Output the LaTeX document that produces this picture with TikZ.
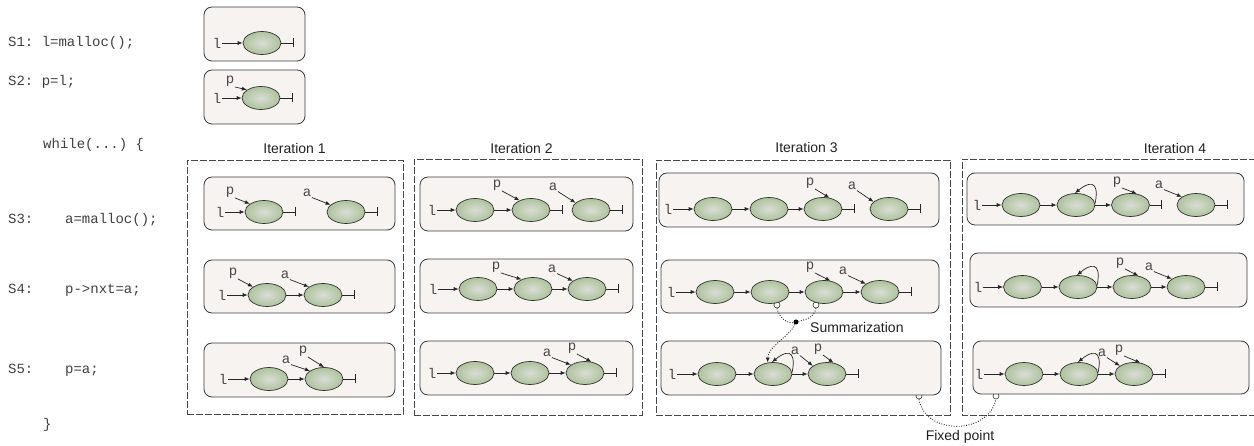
\documentclass[tikz,border=0pt]{standalone}
\usepackage{fontspec}
\setmainfont{Liberation Sans}
\setmonofont{Liberation Mono}
\usetikzlibrary{arrows.meta,shapes.geometric,fit}
\definecolor{cellfill}{HTML}{F7F3F1}
\definecolor{cellline}{HTML}{3C3C3C}
\definecolor{objin}{HTML}{DADDD6}
\definecolor{objout}{HTML}{ADC39B}
\definecolor{ink}{HTML}{222222}
% self-pointer drawn as a small loop over a heap cell
\newcommand\selfloop[1]{\draw[nxt] (#1.5) .. controls +(5,-26) and +(12,-10) .. (#1.95);}
\begin{document}
\begin{tikzpicture}[x=1pt,y=-1pt,
  code/.style={font=\fontsize{14}{16}\selectfont\ttfamily, text=black!75, anchor=west, inner sep=0},
  var/.style={font=\fontsize{14}{16}\selectfont\ttfamily, text=black!72, inner sep=0.5pt},
  title/.style={font=\fontsize{14}{16}\selectfont, text=ink, inner sep=0},
  frame/.style={draw=black!72, dash pattern=on 7pt off 2pt, line width=0.8pt, inner sep=0},
  cell/.style={draw=cellline, fill=cellfill, rounded corners=8pt, line width=0.8pt, inner sep=0},
  obj/.style={ellipse, draw=black!80, line width=0.7pt, minimum width=38pt, minimum height=23pt,
    inner sep=0, shading=radial, inner color=objin, outer color=objout},
  nxt/.style={draw=black!85, line width=0.7pt, -{Latex[length=5pt,width=4pt]}},
  nil/.style={draw=black!85, line width=0.7pt, -{Bar[width=9pt]}},
  hook/.style={circle, draw=black!80, fill=white, line width=0.6pt, minimum size=6pt, inner sep=0},
  knot/.style={circle, fill=black, minimum size=5pt, inner sep=0},
  trail/.style={draw=black!85, line width=0.9pt, dash pattern=on 0.9pt off 1.6pt}]
\fill[white] (0,0) rectangle (1254,446);
\useasboundingbox (0,0) rectangle (1254,446);

% ---------------- program text ----------------
\node[code] (s1) at (8,43) {S1: l=malloc();};
\node[code] (s2) at (8,82) {S2: p=l;};
\node[code] (wh) at (43,145) {while(...) \{};
\node[code] (s3) at (8,220) {S3:\hspace{31.8pt}a=malloc();};
\node[code] (s4) at (8,290) {S4:\hspace{31.8pt}p->nxt=a;};
\node[code] (s5) at (8,370) {S5:\hspace{31.8pt}p=a;};
\node[code] (cb) at (43,425) {\}};

% ---------------- iteration frames ----------------
\node[frame, fit={(187,160) (403,414)}] (it1) {};
\node[frame, fit={(414,159) (642,415)}] (it2) {};
\node[frame, fit={(656,160) (950,415)}] (it3) {};
\draw[frame] (1256,159) -| (962,415) -- (1256,415);
\node[title] (t1) at (294.5,148) {Iteration 1};
\node[title] (t2) at (521.5,148) {Iteration 2};
\node[title] (t3) at (806.5,147) {Iteration 3};
\node[title] (t4) at (1175,148) {Iteration 4};

% fixed-point markers (half hidden under the cells)
\node[hook] (f1) at (919,396) {};
\node[hook] (f2) at (996,396) {};

% ---------------- shape graph cells ----------------
\node[cell, fit={(204,7) (305,61)}] (c01) {};
\node[cell, fit={(204,70) (305,124)}] (c02) {};
\node[cell, fit={(204,177) (395,230)}] (c11) {};
\node[cell, fit={(204,260) (395,313)}] (c12) {};
\node[cell, fit={(204,343) (395,397)}] (c13) {};
\node[cell, fit={(420,177) (633,231)}] (c21) {};
\node[cell, fit={(420,259) (633,313)}] (c22) {};
\node[cell, fit={(420,341) (633,395)}] (c23) {};
\node[cell, fit={(659,173) (939,227)}] (c31) {};
\node[cell, fit={(661,260) (939,313)}] (c32) {};
\node[cell, fit={(661,341) (941,395)}] (c33) {};
\node[cell, fit={(967,173) (1244,225)}] (c41) {};
\node[cell, fit={(970,253) (1247,307)}] (c42) {};
\node[cell, fit={(973,341) (1249,394)}] (c43) {};

% summarization markers (half hidden under the heap cells)
\node[hook] (h1) at (777,305) {};
\node[hook] (h2) at (816,305) {};

% ---------------- S1, S2 ----------------
\node[var] (l01) at (217,43) {l};
\node[obj] (e011) at (262,43) {};
\draw[nxt] (l01.east) -- (e011.west);
\draw[nil] (e011.east) -- ++(12,0);

\node[var] (p02) at (230,81) {p};
\node[var] (l02) at (217,98) {l};
\node[obj] (e021) at (261,98) {};
\draw[nxt] (l02.east) -- (e021.west);
\draw[nxt] (p02.south east) -- (e021.150);
\draw[nil] (e021.east) -- ++(12,0);

% ---------------- iteration 1 ----------------
\node[var] (l11) at (220,212) {l};
\node[var] (p11) at (230,192) {p};
\node[var] (a11) at (307,193) {a};
\node[obj] (e111) at (264,212) {};
\node[obj] (e112) at (346,212) {};
\draw[nxt] (l11.east) -- (e111.west);
\draw[nxt] (p11.south east) -- (e111.150);
\draw[nxt] (a11.south east) -- (e112.155);
\draw[nil] (e111.east) -- ++(12,0);
\draw[nil] (e112.east) -- ++(12,0);

\node[var] (l12) at (222,295) {l};
\node[var] (p12) at (233,273) {p};
\node[var] (a12) at (285,275) {a};
\node[obj] (e121) at (267,295) {};
\node[obj] (e122) at (323,295) {};
\draw[nxt] (l12.east) -- (e121.west);
\draw[nxt] (e121.east) -- (e122.west);
\draw[nxt] (p12.south east) -- (e121.150);
\draw[nxt] (a12.south east) -- (e122.150);
\draw[nil] (e122.east) -- ++(12,0);

\node[var] (l13) at (223,379) {l};
\node[var] (a13) at (286,360) {a};
\node[var] (p13) at (303,351) {p};
\node[obj] (e131) at (269,379) {};
\node[obj] (e132) at (324,379) {};
\draw[nxt] (l13.east) -- (e131.west);
\draw[nxt] (e131.east) -- (e132.west);
\draw[nxt] (a13.south east) -- (e132.150);
\draw[nxt] (p13.south east) -- (e132.90);
\draw[nil] (e132.east) -- ++(12,0);

% ---------------- iteration 2 ----------------
\node[var] (l21) at (432,210) {l};
\node[var] (p21) at (497,185) {p};
\node[var] (a21) at (553,187) {a};
\node[obj] (e211) at (475,210) {};
\node[obj] (e212) at (531,210) {};
\node[obj] (e213) at (591,210) {};
\draw[nxt] (l21.east) -- (e211.west);
\draw[nxt] (e211.east) -- (e212.west);
\draw[nxt] (p21.south east) -- (e212.140);
\draw[nxt] (a21.south east) -- (e213.155);
\draw[nil] (e212.east) -- ++(12,0);
\draw[nil] (e213.east) -- ++(12,0);

\node[var] (l22) at (433,289) {l};
\node[var] (p22) at (496,267) {p};
\node[var] (a22) at (552,269) {a};
\node[obj] (e221) at (478,289) {};
\node[obj] (e222) at (533,289) {};
\node[obj] (e223) at (587,289) {};
\draw[nxt] (l22.east) -- (e221.west);
\draw[nxt] (e221.east) -- (e222.west);
\draw[nxt] (e222.east) -- (e223.west);
\draw[nxt] (p22.south east) -- (e222.140);
\draw[nxt] (a22.south east) -- (e223.150);
\draw[nil] (e223.east) -- ++(12,0);

\node[var] (l23) at (432,373) {l};
\node[var] (a23) at (547,353) {a};
\node[var] (p23) at (572,348) {p};
\node[obj] (e231) at (475,373) {};
\node[obj] (e232) at (530,373) {};
\node[obj] (e233) at (585,373) {};
\draw[nxt] (l23.east) -- (e231.west);
\draw[nxt] (e231.east) -- (e232.west);
\draw[nxt] (e232.east) -- (e233.west);
\draw[nxt] (a23.south east) -- (e233.150);
\draw[nxt] (p23.south east) -- (e233.60);
\draw[nil] (e233.east) -- ++(12,0);

% ---------------- iteration 3 ----------------
\node[var] (l31) at (668,209) {l};
\node[var] (p31) at (810,183) {p};
\node[var] (a31) at (852,186) {a};
\node[obj] (e311) at (713,209) {};
\node[obj] (e312) at (769,209) {};
\node[obj] (e313) at (823,209) {};
\node[obj] (e314) at (889,209) {};
\draw[nxt] (l31.east) -- (e311.west);
\draw[nxt] (e311.east) -- (e312.west);
\draw[nxt] (e312.east) -- (e313.west);
\draw[nxt] (p31.south east) -- (e313.60);
\draw[nxt] (a31.south east) -- (e314.155);
\draw[nil] (e313.east) -- ++(12,0);
\draw[nil] (e314.east) -- ++(12,0);

\node[var] (l32) at (671,292) {l};
\node[var] (p32) at (810,267) {p};
\node[var] (a32) at (843,271) {a};
\node[obj] (e321) at (715,292) {};
\node[obj] (e322) at (770,292) {};
\node[obj] (e323) at (824,292) {};
\node[obj] (e324) at (880,292) {};
\draw[nxt] (l32.east) -- (e321.west);
\draw[nxt] (e321.east) -- (e322.west);
\draw[nxt] (e322.east) -- (e323.west);
\draw[nxt] (e323.east) -- (e324.west);
\draw[nxt] (p32.south east) -- (e323.60);
\draw[nxt] (a32.south east) -- (e324.150);
\draw[nil] (e324.east) -- ++(12,0);

\node[var] (l33) at (672,374) {l};
\node[var] (a33) at (795,351) {a};
\node[var] (p33) at (818,349) {p};
\node[obj] (e331) at (717,374) {};
\node[obj] (e332) at (773,374) {};
\node[obj] (e333) at (827,374) {};
\draw[nxt] (l33.east) -- (e331.west);
\draw[nxt] (e331.east) -- (e332.west);
\draw[nxt] (e332.east) -- (e333.west);
\selfloop{e332}
\draw[nxt] (a33.south east) -- (e333.150);
\draw[nxt] (p33.south east) -- (e333.60);
\draw[nil] (e333.east) -- ++(12,0);

% summarization: two cells folded into one
\node[knot] (sd) at (796,322) {};
\draw[trail] (h1.south) .. controls +(2,10) and +(-8,2) .. (sd);
\draw[trail] (h2.south) .. controls +(-2,10) and +(8,-2) .. (sd);
\draw[trail, -{Latex[length=5pt,width=4pt]}] (sd) .. controls +(-6,14) and +(0,-16) .. (e332.115);
\node[title, anchor=west] (sumlbl) at (810,327) {Summarization};

% ---------------- iteration 4 ----------------
\node[var] (l41) at (977,205) {l};
\node[var] (p41) at (1117,182) {p};
\node[var] (a41) at (1159,185) {a};
\node[obj] (e411) at (1021,205) {};
\node[obj] (e412) at (1076,205) {};
\node[obj] (e413) at (1130.5,205) {};
\node[obj] (e414) at (1196,205) {};
\draw[nxt] (l41.east) -- (e411.west);
\draw[nxt] (e411.east) -- (e412.west);
\draw[nxt] (e412.east) -- (e413.west);
\selfloop{e412}
\draw[nxt] (p41.south east) -- (e413.60);
\draw[nxt] (a41.south east) -- (e414.150);
\draw[nil] (e413.east) -- ++(12,0);
\draw[nil] (e414.east) -- ++(12,0);

\node[var] (l42) at (978,287) {l};
\node[var] (p42) at (1120,263) {p};
\node[var] (a42) at (1149,267) {a};
\node[obj] (e421) at (1022.5,287) {};
\node[obj] (e422) at (1078,287) {};
\node[obj] (e423) at (1132,287) {};
\node[obj] (e424) at (1186,287) {};
\draw[nxt] (l42.east) -- (e421.west);
\draw[nxt] (e421.east) -- (e422.west);
\draw[nxt] (e422.east) -- (e423.west);
\draw[nxt] (e423.east) -- (e424.west);
\selfloop{e422}
\draw[nxt] (p42.south east) -- (e423.60);
\draw[nxt] (a42.south east) -- (e424.150);
\draw[nil] (e424.east) -- ++(12,0);

\node[var] (l43) at (979,374) {l};
\node[var] (a43) at (1102,353) {a};
\node[var] (p43) at (1119,350) {p};
\node[obj] (e431) at (1024,374) {};
\node[obj] (e432) at (1079,374) {};
\node[obj] (e433) at (1134,374) {};
\draw[nxt] (l43.east) -- (e431.west);
\draw[nxt] (e431.east) -- (e432.west);
\draw[nxt] (e432.east) -- (e433.west);
\selfloop{e432}
\draw[nxt] (a43.south east) -- (e433.150);
\draw[nxt] (p43.south east) -- (e433.60);
\draw[nil] (e433.east) -- ++(12,0);

% fixed point reached between iterations 3 and 4
\draw[trail] (f1.south) .. controls +(6,36) and +(-8,36) .. (f2.south);
\node[title] (fplbl) at (960,437) {Fixed point};
\end{tikzpicture}
\end{document}
